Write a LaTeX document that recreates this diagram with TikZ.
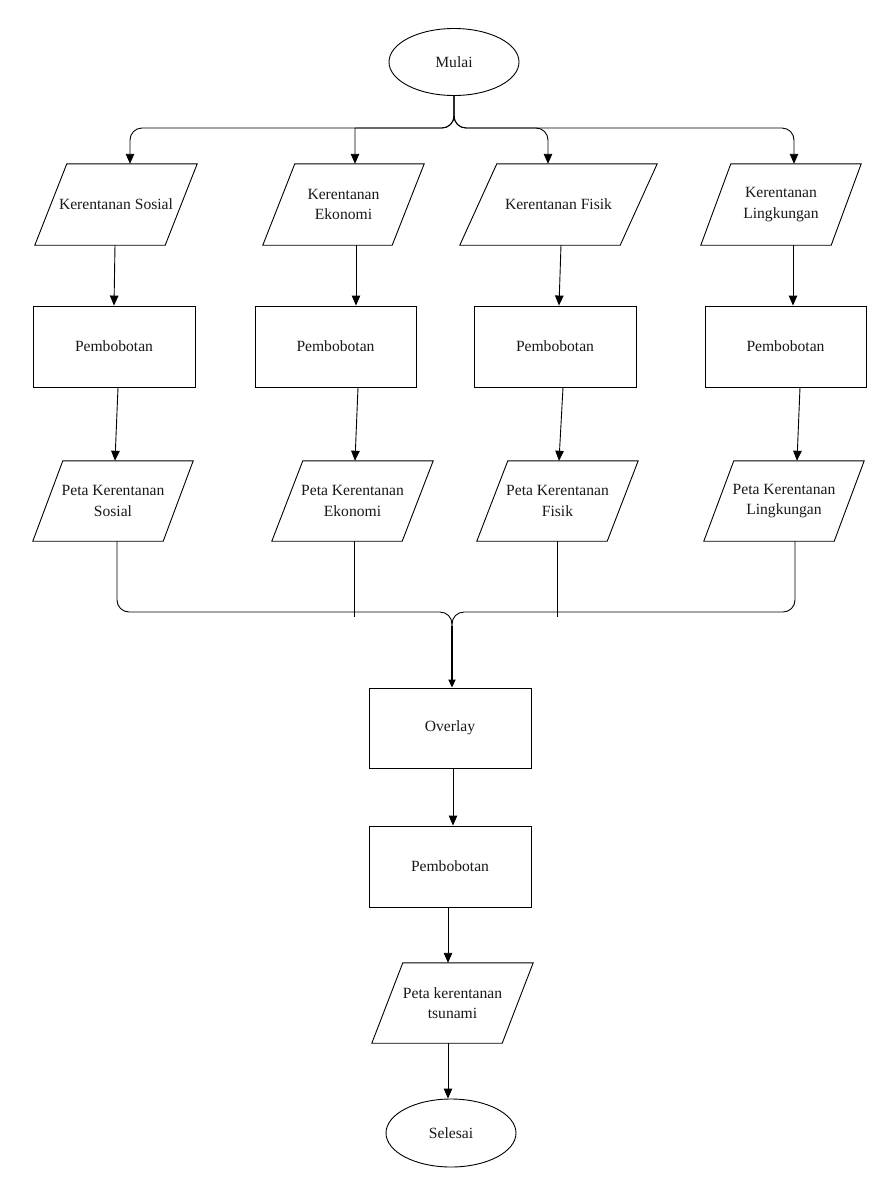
\documentclass[tikz,border=0pt]{standalone}
\usepackage{fontspec}
\setmainfont{Liberation Serif}
\usetikzlibrary{arrows.meta,calc,shapes.geometric}
\newcommand\paraoutline[2]{%
  \draw[line width=0.9pt] ($(#1.north west)+(#2,0)$) -- (#1.north east) -- ($(#1.south east)-(#2,0)$) -- (#1.south west) -- cycle;}
\tikzset{
  every node/.style={font=\fontsize{15.6}{20.5}\selectfont, text=black!90},
  box/.style={draw, minimum width=162pt, minimum height=81pt, inner sep=0pt, line width=0.9pt},
  para/.style={minimum height=80pt, inner sep=0pt, align=center},
  term/.style={draw, ellipse, minimum width=130pt, minimum height=67pt, inner sep=0pt, line width=0.9pt},
  con/.style={line width=0.9pt},
  arr/.style={con, -{Triangle[length=10pt,width=8.5pt]}},
  arrthick/.style={line width=1.8pt, -{Triangle[length=8pt,width=7pt]}},
}
\begin{document}
\begin{tikzpicture}[x=1pt,y=-1pt]
\fill[white] (0,0) rectangle (886,1187);
\useasboundingbox (0,0) rectangle (886,1187);

% terminals
\node[term] (mulai) at (454,62) {Mulai};
\node[term, minimum height=68pt] (selesai) at (451,1133) {Selesai};

% row 1 parallelograms
\node[para, minimum width=162pt, minimum height=81pt] (k1) at (116,204.5) {Kerentanan Sosial};
\node[para, minimum width=161pt, minimum height=81pt] (k2) at (343.5,204.5) {Kerentanan\\Ekonomi};
\node[para, minimum width=197pt, minimum height=81pt] (k3) at (558.5,204.5) {Kerentanan Fisik};
\node[para, minimum width=160pt, minimum height=81pt] (k4) at (781,204.5) {Kerentanan\\Lingkungan};
\paraoutline{k1}{32}
\paraoutline{k2}{32}
\paraoutline{k3}{37}
\paraoutline{k4}{30}

% row 2 boxes
\node[box] (r1) at (114,346.5) {Pembobotan};
\node[box, minimum width=161pt] (r2) at (335.5,346.5) {Pembobotan};
\node[box] (r3) at (555,346.5) {Pembobotan};
\node[box, minimum width=161pt] (r4) at (785.5,346.5) {Pembobotan};

% row 3 parallelograms
\node[para, minimum width=160pt] (p1) at (113,501) {Peta Kerentanan\\Sosial};
\node[para, minimum width=161pt] (p2) at (352.5,501) {Peta Kerentanan\\Ekonomi};
\node[para, minimum width=161pt] (p3) at (557.5,501) {Peta Kerentanan\\Fisik};
\node[para, minimum width=160pt] (p4) at (784,501) {Peta Kerentanan\\Lingkungan};
\paraoutline{p1}{30}
\paraoutline{p2}{31}
\paraoutline{p3}{31}
\paraoutline{p4}{30}

% lower column
\node[box, minimum height=80pt] (ov) at (450,728) {Overlay};
\node[box] (pb) at (450,866.5) {Pembobotan};
\node[para, minimum width=161pt] (pt) at (452.5,1003) {Peta kerentanan\\tsunami};
\paraoutline{pt}{31}

% top distribution
\coordinate (tb) at (454,128);
\draw[arr, rounded corners=12pt] (mulai.south) |- ([xshift=14pt]k1.north |- tb) -- ([xshift=14pt]k1.north);
\draw[arr, rounded corners=12pt] (mulai.south) |- ([xshift=11.5pt]k2.north |- tb) ([xshift=11.5pt]k2.north |- tb) -- ([xshift=11.5pt]k2.north);
\draw[arr, rounded corners=12pt] (mulai.south) |- ([xshift=-10.5pt]k3.north |- tb) -- ([xshift=-10.5pt]k3.north);
\draw[arr, rounded corners=12pt] (mulai.south) |- ([xshift=13pt]k4.north |- tb) -- ([xshift=13pt]k4.north);

% row1 -> row2
\draw[arr] ([xshift=-1pt]k1.south) -- (r1.north);
\draw[arr] ([xshift=12.5pt]k2.south) -- ([xshift=20.5pt]r2.north);
\draw[arr] ([xshift=2.5pt]k3.south) -- ([xshift=4pt]r3.north);
\draw[arr] ([xshift=12pt]k4.south) -- ([xshift=7.5pt]r4.north);

% row2 -> row3
\draw[arr] ([xshift=4pt]r1.south) -- ([xshift=2pt]p1.north);
\draw[arr] ([xshift=22.5pt]r2.south) -- ([xshift=2.5pt]p2.north);
\draw[arr] ([xshift=8pt]r3.south) -- ([xshift=1.5pt]p3.north);
\draw[arr] ([xshift=14.5pt]r4.south) -- ([xshift=13pt]p4.north);

% merge into overlay
\coordinate (bb) at (452,612);
\coordinate (jn) at (452,626);
\coordinate (e2) at (354,617);
\coordinate (e3) at (557,617);
\draw[con, rounded corners=12pt] ([xshift=4pt]p1.south) |- (bb) -- (jn);
\draw[con, rounded corners=12pt] ([xshift=11pt]p4.south) |- (bb) -- (jn);
\draw[con] ([xshift=1.5pt]p2.south) -- (e2);
\draw[con] ([xshift=-0.5pt]p3.south) -- (e3);
\draw[arrthick] (jn) -- ([xshift=2pt]ov.north);

% lower chain
\draw[arr] ([xshift=3pt]ov.south) -- ([xshift=3pt]pb.north);
\draw[arr] ([xshift=-2pt]pb.south) -- ([xshift=-4.5pt]pt.north);
\draw[arr] ([xshift=-4.5pt]pt.south) -- ([xshift=-3pt]selesai.north);
\end{tikzpicture}
\end{document}
